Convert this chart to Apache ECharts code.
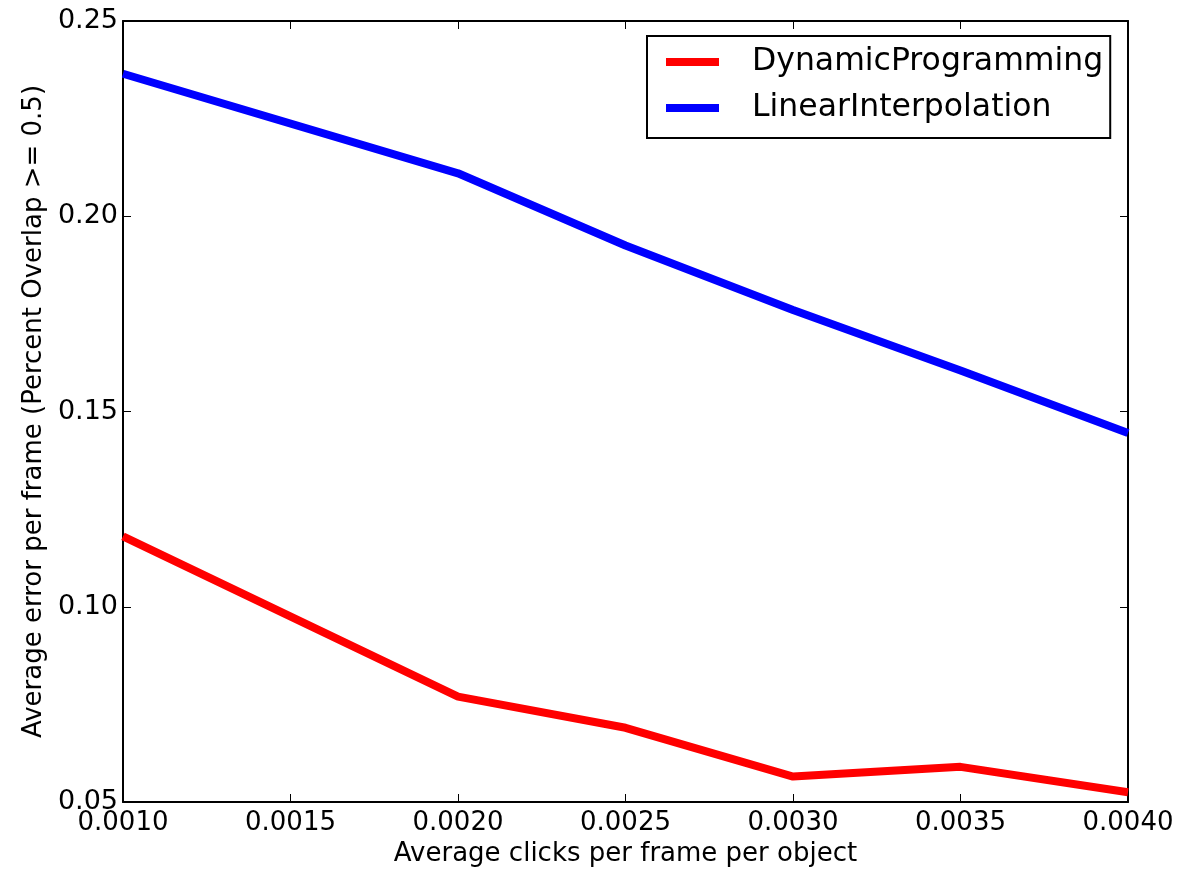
<!DOCTYPE html>
<html>
<head>
<meta charset="utf-8">
<title>Average error per frame</title>
<script src="https://cdn.jsdelivr.net/npm/echarts@6/dist/echarts.min.js"></script>
<style>
  html, body { margin: 0; padding: 0; background: #fff; }
  #chart { width: 1181px; height: 869px; }
</style>
</head>
<body>
<div id="chart"></div>
<script>
// data
var clicksPerFrame = [0.001, 0.002, 0.0025, 0.003, 0.0035, 0.004];
var dynamicProgramming = [0.118, 0.077, 0.069, 0.0565, 0.059, 0.0525];
var linearInterpolation = [0.2365, 0.211, 0.1925, 0.176, 0.1605, 0.1445];
var seriesNames = ['DynamicProgramming', 'LinearInterpolation'];

function pairs(xs, ys) {
    return xs.map(function (x, i) { return [x, ys[i]]; });
}

var font = 'DejaVu Sans';
var myChart = echarts.init(document.getElementById('chart'));

// frame axes on top / right: ticks only
var frameAxis = {
    axisLine: { show: true, lineStyle: { color: '#000', width: 2 } },
    axisTick: { show: true, inside: true, length: 8, lineStyle: { color: '#000', width: 1 } },
    axisLabel: { show: false },
    splitLine: { show: false }
};

var option = {
    animation: false,
    backgroundColor: '#fff',
    textStyle: { fontFamily: font },
    grid: { left: 123, right: 53, top: 21, bottom: 67, outerBoundsMode: 'none', containLabel: false },
    legend: {
        orient: 'vertical',
        left: 647,
        top: 36,
        data: seriesNames,
        icon: 'rect',
        itemWidth: 53,
        itemHeight: 8,
        itemGap: 10,
        padding: [8, 7, 12, 19],
        borderColor: '#000',
        borderWidth: 2,
        borderRadius: 0,
        backgroundColor: '#fff',
        textStyle: {
            fontFamily: font,
            fontSize: 31.5,
            color: '#000',
            lineHeight: 36,
            padding: [0, 0, 0, 28]
        }
    },
    xAxis: [
        Object.assign({
            type: 'value',
            position: 'bottom',
            min: 0.001,
            max: 0.004,
            interval: 0.0005,
            name: 'Average clicks per frame per object',
            nameLocation: 'middle',
            nameGap: 38,
            nameTextStyle: { fontFamily: font, fontSize: 26, color: '#000' }
        }, frameAxis, {
            axisLabel: {
                show: true,
                margin: 8,
                fontFamily: font,
                fontSize: 26,
                color: '#000',
                showMinLabel: true,
                showMaxLabel: true,
                formatter: function (v) { return v.toFixed(4); }
            }
        }),
        Object.assign({
            type: 'value',
            position: 'top',
            min: 0.001,
            max: 0.004,
            interval: 0.0005
        }, frameAxis)
    ],
    yAxis: [
        Object.assign({
            type: 'value',
            position: 'left',
            min: 0.05,
            max: 0.25,
            interval: 0.05,
            name: 'Average error per frame (Percent Overlap >= 0.5)',
            nameLocation: 'middle',
            nameGap: 73,
            nameTextStyle: { fontFamily: font, fontSize: 26, color: '#000' }
        }, frameAxis, {
            axisLabel: {
                show: true,
                margin: 5,
                fontFamily: font,
                fontSize: 27,
                color: '#000',
                showMinLabel: true,
                showMaxLabel: true,
                formatter: function (v) { return v.toFixed(2); }
            }
        }),
        Object.assign({
            type: 'value',
            position: 'right',
            min: 0.05,
            max: 0.25,
            interval: 0.05
        }, frameAxis)
    ],
    series: [
        {
            name: seriesNames[0],
            type: 'line',
            data: pairs(clicksPerFrame, dynamicProgramming),
            symbol: 'none',
            color: '#ff0000',
            lineStyle: { width: 8, color: '#ff0000' }
        },
        {
            name: seriesNames[1],
            type: 'line',
            data: pairs(clicksPerFrame, linearInterpolation),
            symbol: 'none',
            color: '#0000ff',
            lineStyle: { width: 8, color: '#0000ff' }
        }
    ]
};

myChart.setOption(option);
</script>
</body>
</html>
